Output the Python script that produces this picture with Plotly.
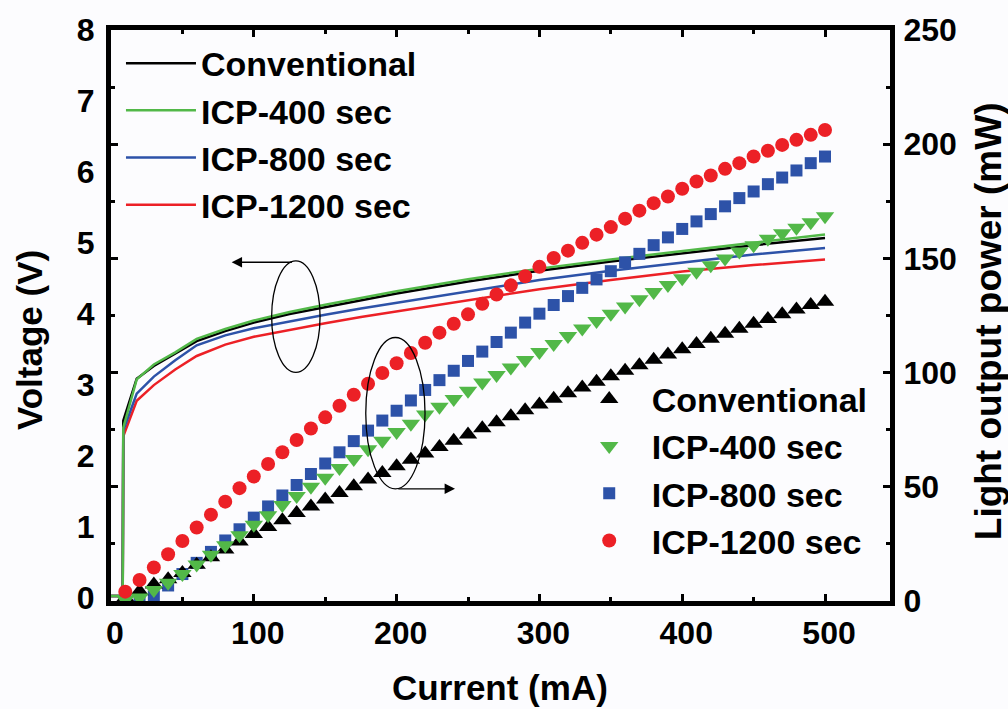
import plotly.graph_objects as go

# ---------------- data ----------------
series_names = ["Conventional", "ICP-400 sec", "ICP-800 sec", "ICP-1200 sec"]
series_colors = ["#000000", "#52b848", "#2d52a8", "#ec2026"]

# I-V curves (left axis, Voltage in V)
iv_current = [0, 8.2, 8.6, 18, 30, 45, 60, 80, 100, 125, 150, 175, 200, 250, 300, 350, 400, 450, 500]
iv_conventional = [0.03, 0.03, 2.50, 3.09, 3.27, 3.44, 3.62, 3.76, 3.88, 4.00, 4.10, 4.20, 4.29, 4.46, 4.61, 4.74, 4.86, 4.97, 5.07]
iv_icp400 = [0.03, 0.03, 2.40, 3.08, 3.29, 3.46, 3.65, 3.79, 3.91, 4.03, 4.13, 4.23, 4.32, 4.49, 4.64, 4.77, 4.89, 5.01, 5.12]
iv_icp800 = [0.03, 0.03, 2.36, 2.88, 3.12, 3.35, 3.56, 3.70, 3.80, 3.90, 3.99, 4.08, 4.16, 4.33, 4.48, 4.61, 4.73, 4.84, 4.93]
iv_icp1200 = [0.03, 0.03, 2.28, 2.78, 3.00, 3.22, 3.41, 3.57, 3.68, 3.78, 3.87, 3.96, 4.04, 4.20, 4.35, 4.48, 4.60, 4.69, 4.77]

# L-I data (right axis, light output power in mW)
li_current = [10, 20, 30, 40, 50, 60, 70, 80, 90, 100,
              110, 120, 130, 140, 150, 160, 170, 180, 190, 200,
              210, 220, 230, 240, 250, 260, 270, 280, 290, 300,
              310, 320, 330, 340, 350, 360, 370, 380, 390, 400,
              410, 420, 430, 440, 450, 460, 470, 480, 490, 500]
li_conventional = [1.5, 4.3, 7.2, 9.5, 12.3, 15.9, 19.2, 22.6, 26.0, 29.3,
                   32.4, 35.4, 38.5, 41.4, 44.4, 47.3, 50.2, 53.2, 56.0, 59.0,
                   61.8, 64.6, 67.4, 70.2, 72.9, 75.6, 78.3, 80.9, 83.5, 86.0,
                   88.5, 91.0, 93.5, 96.0, 98.4, 100.8, 103.2, 105.6, 107.9, 110.2,
                   112.5, 114.8, 117.0, 119.2, 121.4, 123.5, 125.6, 127.6, 129.6, 131.0]
li_icp400 = [0.5, 1.5, 4.8, 8.0, 11.8, 16.0, 20.2, 24.4, 28.8, 33.4,
             37.5, 42.0, 46.0, 50.0, 54.0, 58.2, 62.2, 66.4, 70.2, 74.0,
             77.6, 81.7, 85.0, 88.4, 92.1, 95.7, 99.0, 102.2, 105.5, 109.0,
             112.5, 116.0, 119.3, 122.6, 125.8, 128.9, 132.1, 135.3, 138.3, 141.3,
             144.2, 147.0, 150.0, 153.0, 155.8, 158.6, 161.0, 163.4, 165.8, 168.4]
li_icp800 = [0.0, 0.0, 2.0, 6.8, 11.8, 16.7, 21.5, 26.5, 31.4, 36.5,
             41.4, 46.2, 50.8, 55.6, 60.2, 65.1, 70.0, 74.6, 79.0, 83.3,
             87.8, 92.4, 96.7, 100.8, 105.1, 109.2, 113.4, 117.5, 121.9, 125.8,
             129.6, 133.5, 137.1, 140.8, 144.4, 148.3, 152.0, 155.8, 159.2, 162.9,
             166.2, 169.4, 172.8, 176.4, 179.3, 182.5, 185.4, 188.5, 191.7, 194.6]
li_icp1200 = [4.1, 9.2, 14.7, 20.5, 26.3, 32.2, 37.8, 43.5, 49.4, 54.5,
              60.0, 65.1, 70.5, 75.5, 80.4, 85.5, 90.3, 95.1, 99.8, 104.1,
              108.6, 113.1, 117.5, 121.4, 125.5, 130.1, 134.2, 138.2, 142.2, 146.3,
              150.2, 153.4, 156.8, 160.4, 163.7, 167.4, 170.9, 174.2, 177.1, 180.5,
              183.7, 186.3, 189.2, 191.7, 194.6, 197.1, 199.7, 201.9, 204.1, 206.2]

x_ticks = [0, 100, 200, 300, 400, 500]
v_ticks = [0, 1, 2, 3, 4, 5, 6, 7, 8]

iv_series = [iv_conventional, iv_icp400, iv_icp800, iv_icp1200]
li_series = [li_conventional, li_icp400, li_icp800, li_icp1200]
li_symbols = ["triangle-up", "triangle-down", "square", "circle"]
li_sizes = [16, 16, 12, 14]

FONT = "Liberation Sans, Arial, sans-serif"
BG = "#fcfcfe"

fig = go.Figure()

# lines: draw order black, red, blue, green (green on top)
for i in [0, 3, 2, 1]:
    fig.add_trace(go.Scatter(
        x=iv_current, y=iv_series[i], mode="lines", name=series_names[i],
        line=dict(color=series_colors[i], width=2.5),
        legend="legend", legendrank=i + 1, yaxis="y", hoverinfo="skip"))

# markers: blue, black, green, red
for i in [2, 0, 1, 3]:
    fig.add_trace(go.Scatter(
        x=li_current, y=li_series[i], mode="markers", name=series_names[i],
        marker=dict(color=series_colors[i], symbol=li_symbols[i], size=li_sizes[i],
                    line=dict(width=0)),
        legend="legend2", legendrank=i + 1, yaxis="y2", hoverinfo="skip"))

tickfont = dict(family=FONT, size=32, color="black", weight="bold")
legfont = dict(family=FONT, size=34, color="black", weight="bold")
titlefont = dict(family=FONT, size=35, color="black", weight="bold")

fig.update_layout(
    width=1008, height=709,
    margin=dict(l=111, r=118, t=28, b=108),
    paper_bgcolor=BG, plot_bgcolor=BG,
    font=dict(family=FONT, size=32, color="black", weight="bold"),
    showlegend=True,
    xaxis=dict(
        range=[0, 545.5], tickmode="array", tickvals=x_ticks,
        ticks="inside", ticklen=7, tickwidth=3, tickcolor="black",
        minor=dict(tickmode="array", tickvals=[50, 150, 250, 350, 450],
                   ticks="inside", ticklen=4, tickwidth=3, tickcolor="black"),
        showline=True, linewidth=5, linecolor="black", mirror="ticks",
        showgrid=False, zeroline=False, tickfont=tickfont, ticklabelshift=4),
    yaxis=dict(
        range=[-0.04, 8.0], tickmode="array", tickvals=v_ticks, ticks="",
        showline=True, linewidth=5, linecolor="black",
        showgrid=False, zeroline=False, tickfont=tickfont, ticklabelstandoff=5),
    yaxis2=dict(
        overlaying="y", side="right", range=[0, 250], tick0=0, dtick=50,
        ticks="inside", ticklen=7, tickwidth=3, tickcolor="black",
        minor=dict(dtick=25, ticks="inside", ticklen=4, tickwidth=3, tickcolor="black"),
        showline=True, linewidth=5, linecolor="black", mirror="ticks",
        showgrid=False, zeroline=False, tickfont=tickfont, ticklabelstandoff=2),
    legend=dict(x=0.0128, y=0.992, xanchor="left", yanchor="top",
                bgcolor="rgba(0,0,0,0)", itemwidth=70, tracegroupgap=0, font=legfont),
    legend2=dict(x=0.585, y=0.404, xanchor="left", yanchor="top",
                 bgcolor="rgba(0,0,0,0)", itemwidth=75, tracegroupgap=0, font=legfont),
)

# ellipses grouping the curves
fig.add_shape(type="circle", xref="x", yref="y", x0=112.5, x1=146.4, y0=3.18, y1=4.75,
              line=dict(color="black", width=1.3))
fig.add_shape(type="circle", xref="x", yref="y", x0=178.4, x1=219.9, y0=1.54, y1=3.67,
              line=dict(color="black", width=1.3))

# arrows pointing to the relevant axes
fig.add_annotation(x=84.5, y=4.73, xref="x", yref="y", ax=127.7, ay=4.73, axref="x", ayref="y",
                   text="", showarrow=True, arrowhead=2, arrowsize=1.6, arrowwidth=1.3,
                   arrowcolor="black")
fig.add_annotation(x=240.9, y=1.54, xref="x", yref="y", ax=200.1, ay=1.54, axref="x", ayref="y",
                   text="", showarrow=True, arrowhead=2, arrowsize=1.6, arrowwidth=1.3,
                   arrowcolor="black")

# axis titles
fig.add_annotation(text="Current (mA)", xref="paper", yref="paper", x=0.4994, y=-0.152,
                   xanchor="center", yanchor="middle", showarrow=False, font=titlefont)
fig.add_annotation(text="Voltage (V)", xref="paper", yref="paper", x=-0.1053, y=0.457,
                   xanchor="center", yanchor="middle", textangle=-90, showarrow=False,
                   font=titlefont)
fig.add_annotation(text="Light output power (mW)", xref="paper", yref="paper", x=1.1258, y=0.49,
                   xanchor="center", yanchor="middle", textangle=-90, showarrow=False,
                   font=dict(family=FONT, size=37, color="black", weight="bold"))

fig.write_html("out.html")
